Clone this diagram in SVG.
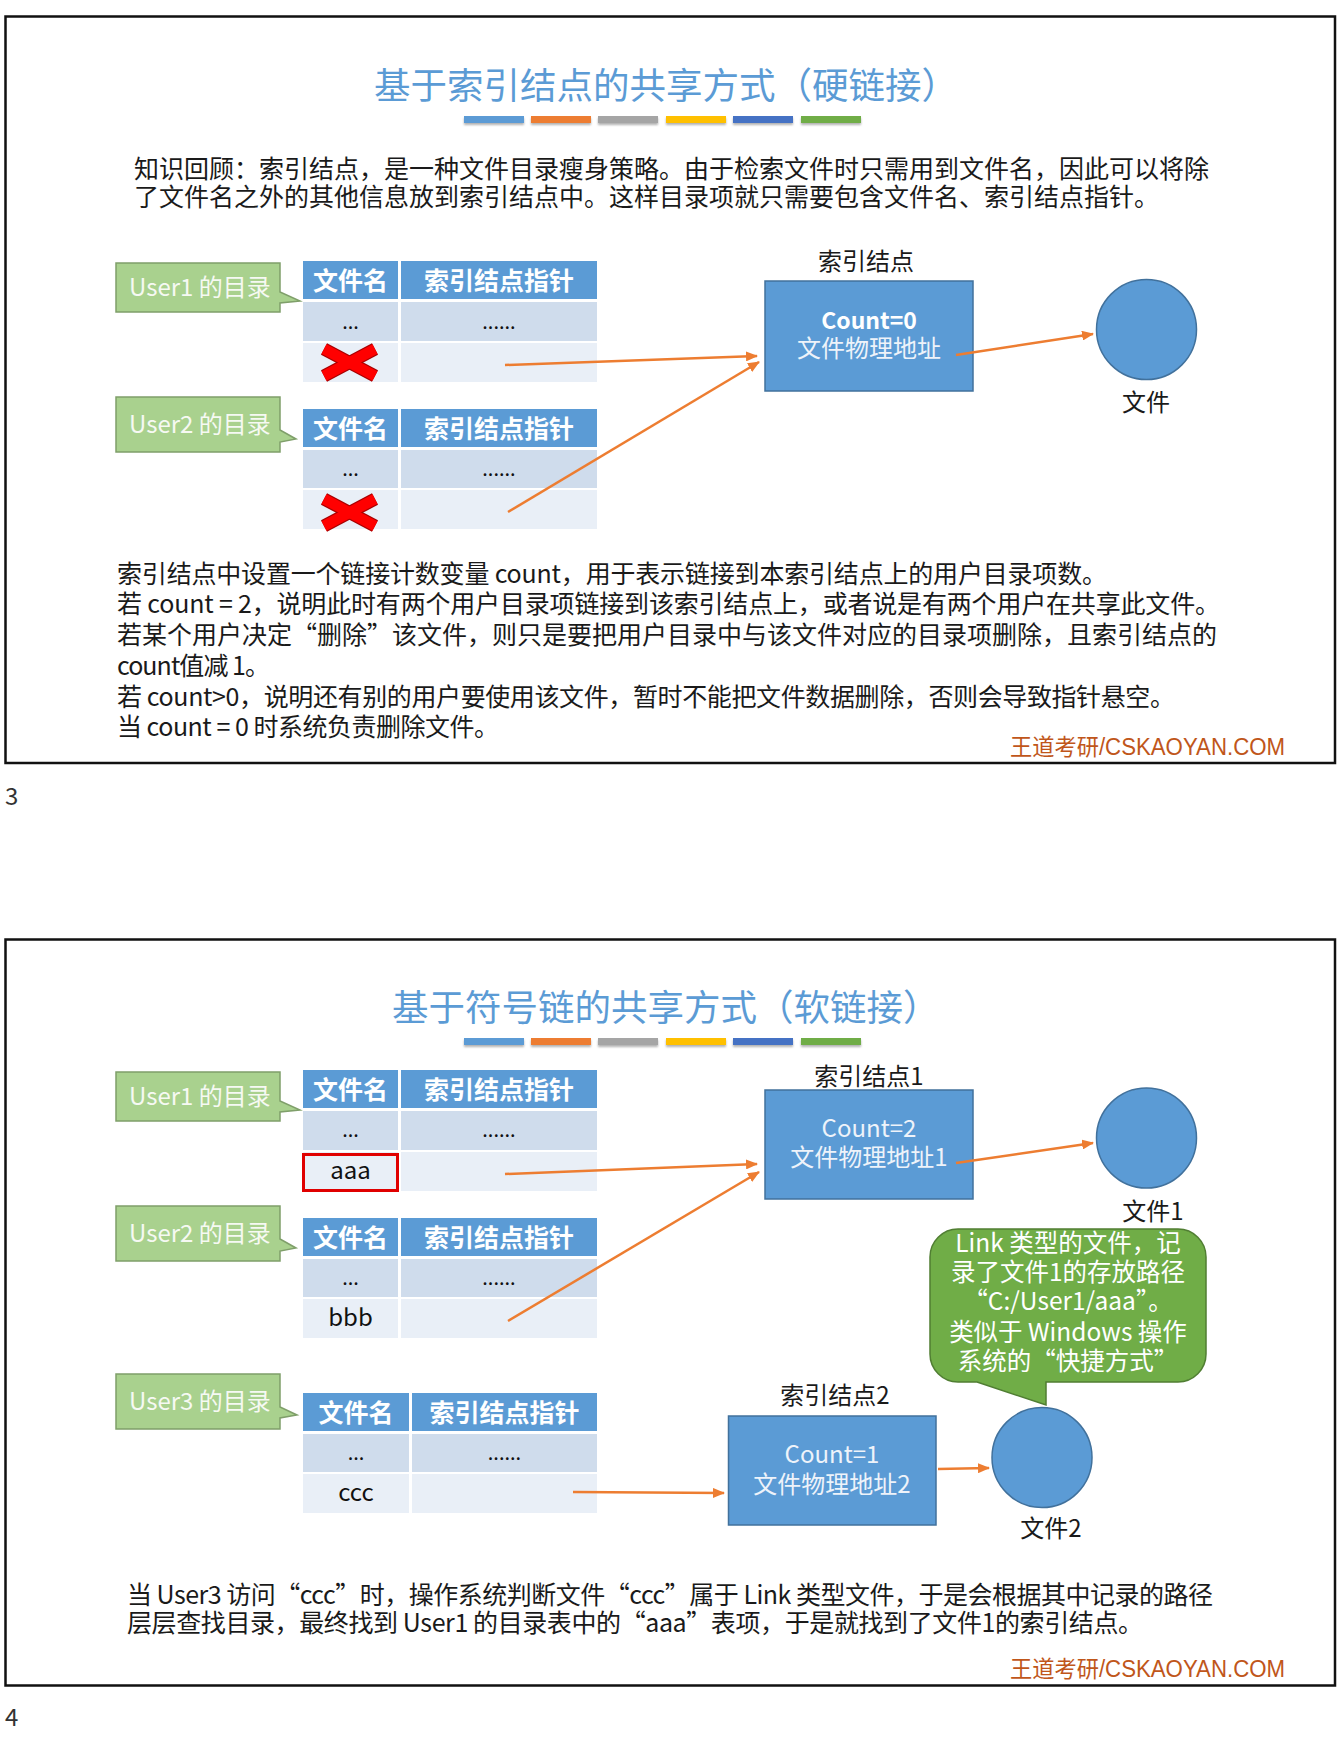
<svg xmlns="http://www.w3.org/2000/svg" width="1338" height="1740" viewBox="0 0 1338 1740">
<defs>
<style>
text{font-family:"Noto Sans CJK SC","Noto Sans",sans-serif}
.frame{fill:none;stroke:#111;stroke-width:2.5}
.title{font-size:36.5px;fill:#5B9BD5}
.para{font-size:25px;fill:#1a1a1a}
.num{font-size:24px;fill:#333}
.hd{fill:#5B9BD5}
.ra{fill:#CFDCEC}
.rb{fill:#E9EFF7}
.hdt{font-size:25px;font-weight:bold;fill:#fff;text-anchor:middle}
.ct{font-size:24px;fill:#111;text-anchor:middle}
.dots{font-size:20px;fill:#111;text-anchor:middle}
.callout{fill:#A9D18E;stroke:#7F9F6A;stroke-width:1.5}
.cot{font-size:24px;fill:#F6F9F3}
.node{fill:#5B9BD5;stroke:#41719C;stroke-width:1.5}
.nt{font-size:24px;fill:#EEF3FA;text-anchor:middle}
.lbl{font-size:24px;fill:#1a1a1a;text-anchor:middle}
.bubble{fill:#70AD47;stroke:#507E32;stroke-width:1.5}
.bt{font-size:24.5px;fill:#fff;text-anchor:middle}
.conn line{stroke:#ED7D31;stroke-width:2.5;marker-end:url(#ah)}
.xo{stroke:#A80000;stroke-width:13}
.xi{stroke:#FF0000;stroke-width:10.5}
.footer{font-family:"Liberation Sans","Noto Sans CJK SC",sans-serif;font-size:23px;fill:#C0561A}
</style>
<marker id="ah" markerUnits="userSpaceOnUse" markerWidth="12" markerHeight="10" refX="11" refY="5" orient="auto">
<path d="M0,0 L12,5 L0,10 z" fill="#ED7D31"/>
</marker>
<filter id="sh" x="-10%" y="-50%" width="120%" height="250%">
<feDropShadow dx="0" dy="2" stdDeviation="1" flood-color="#000" flood-opacity="0.3"/>
</filter>
<g id="bars">
<rect x="464" y="0" width="60" height="7" fill="#5B9BD5"/>
<rect x="531" y="0" width="60" height="7" fill="#ED7D31"/>
<rect x="598" y="0" width="60" height="7" fill="#A5A5A5"/>
<rect x="666" y="0" width="60" height="7" fill="#FFC000"/>
<rect x="733" y="0" width="60" height="7" fill="#4472C4"/>
<rect x="801" y="0" width="60" height="7" fill="#70AD47"/>
</g>
</defs>

<rect width="1338" height="1740" fill="#fff"/>

<!-- ============ slide 3: hard link ============ -->
<rect class="frame" x="5.5" y="16.5" width="1329.5" height="746.5"/>
<text class="num" x="5" y="805">3</text>

<text class="title" x="374" y="99">基于索引结点的共享方式（硬链接）</text>
<use href="#bars" y="116" filter="url(#sh)"/>

<text class="para" x="134" y="178">知识回顾：索引结点，是一种文件目录瘦身策略。由于检索文件时只需用到文件名，因此可以将除</text>
<text class="para" x="134" y="206">了文件名之外的其他信息放到索引结点中。这样目录项就只需要包含文件名、索引结点指针。</text>

<g id="s3-user1-label">
<path class="callout" d="M116,263 H280 V292 L300,301 L280,303 V312 H116 Z"/>
<text class="cot" x="129" y="296">User1 的目录</text>
</g>
<g id="s3-user1-table">
<rect class="hd" x="303" y="261" width="95" height="38"/>
<rect class="hd" x="401" y="261" width="196" height="38"/>
<rect class="ra" x="303" y="302" width="95" height="39"/>
<rect class="ra" x="401" y="302" width="196" height="39"/>
<rect class="rb" x="303" y="343" width="95" height="39"/>
<rect class="rb" x="401" y="343" width="196" height="39"/>
<text class="hdt" x="350.5" y="289.5">文件名</text>
<text class="hdt" x="499" y="289.5">索引结点指针</text>
<text class="dots" x="350.5" y="329">...</text>
<text class="dots" x="499" y="329">......</text>
<line class="xo" x1="324" y1="349" x2="375" y2="376"/>
<line class="xo" x1="324" y1="376" x2="375" y2="349"/>
<line class="xi" x1="324" y1="349" x2="375" y2="376"/>
<line class="xi" x1="324" y1="376" x2="375" y2="349"/>
</g>

<g id="s3-user2-label">
<path class="callout" d="M116,397 H280 V430 L296,439 L280,442 V452 H116 Z"/>
<text class="cot" x="129" y="433">User2 的目录</text>
</g>
<g id="s3-user2-table">
<rect class="hd" x="303" y="409" width="95" height="38"/>
<rect class="hd" x="401" y="409" width="196" height="38"/>
<rect class="ra" x="303" y="450" width="95" height="38"/>
<rect class="ra" x="401" y="450" width="196" height="38"/>
<rect class="rb" x="303" y="490" width="95" height="39"/>
<rect class="rb" x="401" y="490" width="196" height="39"/>
<text class="hdt" x="350.5" y="437.5">文件名</text>
<text class="hdt" x="499" y="437.5">索引结点指针</text>
<text class="dots" x="350.5" y="476">...</text>
<text class="dots" x="499" y="476">......</text>
<line class="xo" x1="324" y1="499" x2="375" y2="526"/>
<line class="xo" x1="324" y1="526" x2="375" y2="499"/>
<line class="xi" x1="324" y1="499" x2="375" y2="526"/>
<line class="xi" x1="324" y1="526" x2="375" y2="499"/>
</g>

<g id="s3-inode">
<text class="lbl" x="866" y="270">索引结点</text>
<rect class="node" x="765" y="281" width="208" height="110"/>
<text class="nt" x="869" y="329" style="font-size:23px;font-weight:bold;fill:#fff">Count=0</text>
<text class="nt" x="869" y="357">文件物理地址</text>
</g>

<g id="s3-file">
<circle class="node" cx="1146.5" cy="329.5" r="50"/>
<text class="lbl" x="1146" y="411">文件</text>
</g>

<g class="conn" id="s3-connectors">
<line x1="505" y1="365" x2="757" y2="356"/>
<line x1="508" y1="512" x2="759" y2="362"/>
<line x1="956" y1="355" x2="1093" y2="334"/>
</g>

<text class="para" x="117" y="583" textLength="990">索引结点中设置一个链接计数变量 count，用于表示链接到本索引结点上的用户目录项数。</text>
<text class="para" x="117" y="613" textLength="1103">若 count = 2，说明此时有两个用户目录项链接到该索引结点上，或者说是有两个用户在共享此文件。</text>
<text class="para" x="117" y="644" textLength="1100">若某个用户决定“删除”该文件，则只是要把用户目录中与该文件对应的目录项删除，且索引结点的</text>
<text class="para" x="117" y="675" textLength="153">count值减 1。</text>
<text class="para" x="117" y="706" textLength="1058">若 count&gt;0，说明还有别的用户要使用该文件，暂时不能把文件数据删除，否则会导致指针悬空。</text>
<text class="para" x="117" y="736" textLength="382">当 count = 0 时系统负责删除文件。</text>

<text class="footer" x="1010" y="755" textLength="275" lengthAdjust="spacingAndGlyphs">王道考研/CSKAOYAN.COM</text>

<!-- ============ slide 4: symbolic link ============ -->
<rect class="frame" x="5.5" y="939.5" width="1329.5" height="746"/>
<text class="num" x="5" y="1726">4</text>

<text class="title" x="392" y="1021">基于符号链的共享方式（软链接）</text>
<use href="#bars" y="1038" filter="url(#sh)"/>

<g id="s4-user1-label">
<path class="callout" d="M116,1072 H280 V1101 L300,1110 L280,1112 V1121 H116 Z"/>
<text class="cot" x="129" y="1105">User1 的目录</text>
</g>
<g id="s4-user1-table">
<rect class="hd" x="303" y="1070" width="95" height="38"/>
<rect class="hd" x="401" y="1070" width="196" height="38"/>
<rect class="ra" x="303" y="1111" width="95" height="39"/>
<rect class="ra" x="401" y="1111" width="196" height="39"/>
<rect class="rb" x="303" y="1152" width="95" height="39"/>
<rect class="rb" x="401" y="1152" width="196" height="39"/>
<text class="hdt" x="350.5" y="1098.5">文件名</text>
<text class="hdt" x="499" y="1098.5">索引结点指针</text>
<text class="dots" x="350.5" y="1137">...</text>
<text class="dots" x="499" y="1137">......</text>
<rect x="303.5" y="1154.5" width="94" height="36" fill="none" stroke="#E00000" stroke-width="3"/>
<text class="ct" x="350.5" y="1179">aaa</text>
</g>

<g id="s4-user2-label">
<path class="callout" d="M116,1206 H280 V1239 L296,1248 L280,1251 V1261 H116 Z"/>
<text class="cot" x="129" y="1242">User2 的目录</text>
</g>
<g id="s4-user2-table">
<rect class="hd" x="303" y="1218" width="95" height="38"/>
<rect class="hd" x="401" y="1218" width="196" height="38"/>
<rect class="ra" x="303" y="1259" width="95" height="38"/>
<rect class="ra" x="401" y="1259" width="196" height="38"/>
<rect class="rb" x="303" y="1299" width="95" height="39"/>
<rect class="rb" x="401" y="1299" width="196" height="39"/>
<text class="hdt" x="350.5" y="1246.5">文件名</text>
<text class="hdt" x="499" y="1246.5">索引结点指针</text>
<text class="dots" x="350.5" y="1285">...</text>
<text class="dots" x="499" y="1285">......</text>
<text class="ct" x="350.5" y="1326">bbb</text>
</g>

<g id="s4-user3-label">
<path class="callout" d="M116,1374 H280 V1407 L297,1415 L280,1418 V1429 H116 Z"/>
<text class="cot" x="129" y="1410">User3 的目录</text>
</g>
<g id="s4-user3-table">
<rect class="hd" x="303" y="1393" width="106" height="38"/>
<rect class="hd" x="412" y="1393" width="185" height="38"/>
<rect class="ra" x="303" y="1434" width="106" height="38"/>
<rect class="ra" x="412" y="1434" width="185" height="38"/>
<rect class="rb" x="303" y="1474" width="106" height="39"/>
<rect class="rb" x="412" y="1474" width="185" height="39"/>
<text class="hdt" x="356" y="1421.5">文件名</text>
<text class="hdt" x="504.5" y="1421.5">索引结点指针</text>
<text class="dots" x="356" y="1460">...</text>
<text class="dots" x="504.5" y="1460">......</text>
<text class="ct" x="356" y="1501">ccc</text>
</g>

<g id="s4-inode1">
<text class="lbl" x="869" y="1085">索引结点1</text>
<rect class="node" x="765" y="1090" width="208" height="109"/>
<text class="nt" x="869" y="1137">Count=2</text>
<text class="nt" x="869" y="1166">文件物理地址1</text>
</g>

<g id="s4-file1">
<circle class="node" cx="1146.5" cy="1138" r="50"/>
<text class="lbl" x="1153" y="1220">文件1</text>
</g>

<g id="s4-note">
<path class="bubble" d="M958,1229 H1178 A28,28 0 0 1 1206,1257 V1354 A28,28 0 0 1 1178,1382 H1046 V1405 L977,1382 H958 A28,28 0 0 1 930,1354 V1257 A28,28 0 0 1 958,1229 Z"/>
<text class="bt" x="1068" y="1252">Link 类型的文件，记</text>
<text class="bt" x="1068" y="1281">录了文件1的存放路径</text>
<text class="bt" x="1068" y="1310">“C:/User1/aaa”。</text>
<text class="bt" x="1068" y="1341">类似于 Windows 操作</text>
<text class="bt" x="1068" y="1370">系统的“快捷方式”</text>
</g>

<g id="s4-inode2">
<text class="lbl" x="835" y="1404">索引结点2</text>
<rect class="node" x="728.5" y="1416" width="207.5" height="109"/>
<text class="nt" x="832" y="1463">Count=1</text>
<text class="nt" x="832" y="1493">文件物理地址2</text>
</g>

<g id="s4-file2">
<circle class="node" cx="1042" cy="1457.5" r="50"/>
<text class="lbl" x="1051" y="1537">文件2</text>
</g>

<g class="conn" id="s4-connectors">
<line x1="505" y1="1174" x2="757" y2="1164"/>
<line x1="508" y1="1321" x2="759" y2="1172"/>
<line x1="956" y1="1163" x2="1093" y2="1143"/>
<line x1="938" y1="1469" x2="989" y2="1468"/>
<line x1="573" y1="1492" x2="724" y2="1493"/>
</g>

<text class="para" x="127" y="1604" textLength="1086">当 User3 访问“ccc”时，操作系统判断文件“ccc”属于 Link 类型文件，于是会根据其中记录的路径</text>
<text class="para" x="127" y="1632" textLength="1016">层层查找目录，最终找到 User1 的目录表中的“aaa”表项，于是就找到了文件1的索引结点。</text>

<text class="footer" x="1010" y="1677" textLength="275" lengthAdjust="spacingAndGlyphs">王道考研/CSKAOYAN.COM</text>
</svg>
